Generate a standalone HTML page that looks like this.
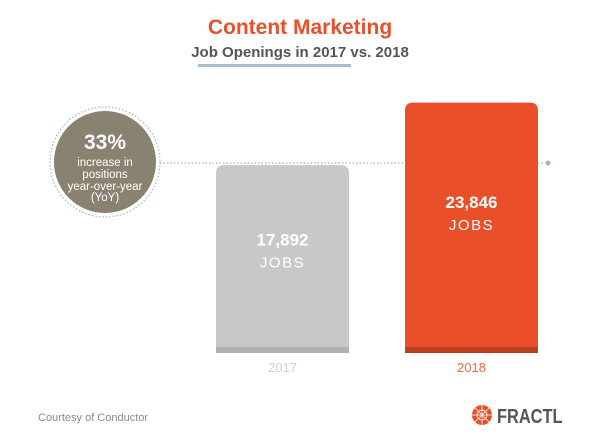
<!DOCTYPE html>
<html><head><meta charset="utf-8"><style>
body{margin:0;background:#fff;width:600px;height:442px;overflow:hidden;font-family:"Liberation Sans",sans-serif}
</style></head><body>
<svg width="600" height="442" viewBox="0 0 600 442">
<text x="300" y="34" text-anchor="middle" font-size="21" font-weight="bold" fill="#e9502a">Content Marketing</text>
<text x="300" y="57" text-anchor="middle" font-size="15" font-weight="bold" fill="#555">Job Openings in 2017 vs. 2018</text>
<rect x="198" y="64" width="153" height="3" fill="#a9bccd"/>
<line x1="160" y1="163" x2="548" y2="163" stroke="#9db3c9" stroke-width="1.3" stroke-dasharray="1.5 2"/>
<circle cx="548" cy="163" r="2.5" fill="#9db3c9"/>
<g id="bars"></g>
<circle cx="105" cy="162" r="55" fill="none" stroke="#9db3c9" stroke-width="1.2" stroke-dasharray="1.5 2"/>
<circle cx="105" cy="162" r="51" fill="#8a8270"/>
<text x="105" y="149" text-anchor="middle" font-size="21" font-weight="bold" fill="#fff">33%</text>
<g font-size="11.5" fill="#fff" text-anchor="middle">
<text x="105" y="166">increase in</text><text x="105" y="178">positions</text><text x="105" y="190">year-over-year</text><text x="105" y="201">(YoY)</text></g>
<text x="38" y="421" font-size="11" fill="#8f8a80">Courtesy of Conductor</text>
<g>
<circle cx="482" cy="415" r="10" fill="#e9502a"/>
<g stroke="#fff" stroke-width="0.8"><line x1="472" y1="415" x2="492" y2="415"/><line x1="482" y1="405" x2="482" y2="425"/><line x1="475" y1="408" x2="489" y2="422"/><line x1="489" y1="408" x2="475" y2="422"/></g>
<circle cx="482" cy="415" r="5" fill="none" stroke="#fff" stroke-width="0.8"/>
<text x="497" y="423" font-size="20" font-weight="bold" fill="#555" transform="scale(0.82,1)" transform-origin="497 423">FRACTL</text>
</g>
</svg>
<script>
const categories=["2017","2018"];
const values=[17892,23846];
const valueLabels=["17,892","23,846"];
const colors=["#c8c8c8","#e9502a"],dark=["#b0b0b0","#b8401f"],labelColors=["#cfcfcf","#ea6a47"];
const baseY=353,pxPer=0.0105,barW=133,xs=[216,405];
function y(v){return baseY-v*pxPer;}
const g=document.getElementById('bars'),NS="http://www.w3.org/2000/svg";
function mk(t,a){const e=document.createElementNS(NS,t);for(const k in a)e.setAttribute(k,a[k]);g.appendChild(e);return e;}
categories.forEach((c,i)=>{
 const top=y(values[i]),h=baseY-top,x=xs[i];
 const b=mk('path',{d:`M${x},${baseY}V${top+8}Q${x},${top} ${x+8},${top}H${x+barW-8}Q${x+barW},${top} ${x+barW},${top+8}V${baseY}Z`,fill:colors[i]});
 
 
 const s=mk('rect',{x:x,y:baseY-6,width:barW,height:6,fill:dark[i]});
 
 
 const cy=top+h*0.4+5;
 const t1=mk('text',{x:x+barW/2,y:cy,'text-anchor':'middle','font-size':17,'font-weight':'bold',fill:'#fff'});t1.textContent=valueLabels[i];
 
 
 const t2=mk('text',{x:x+barW/2,y:cy+22,'text-anchor':'middle','font-size':15,'letter-spacing':1.5,fill:'#fff'});t2.textContent='JOBS';
 
 
 const t3=mk('text',{x:x+barW/2,y:372,'text-anchor':'middle','font-size':13,fill:labelColors[i]});t3.textContent=c;
 
 
});
</script>
</body></html>
